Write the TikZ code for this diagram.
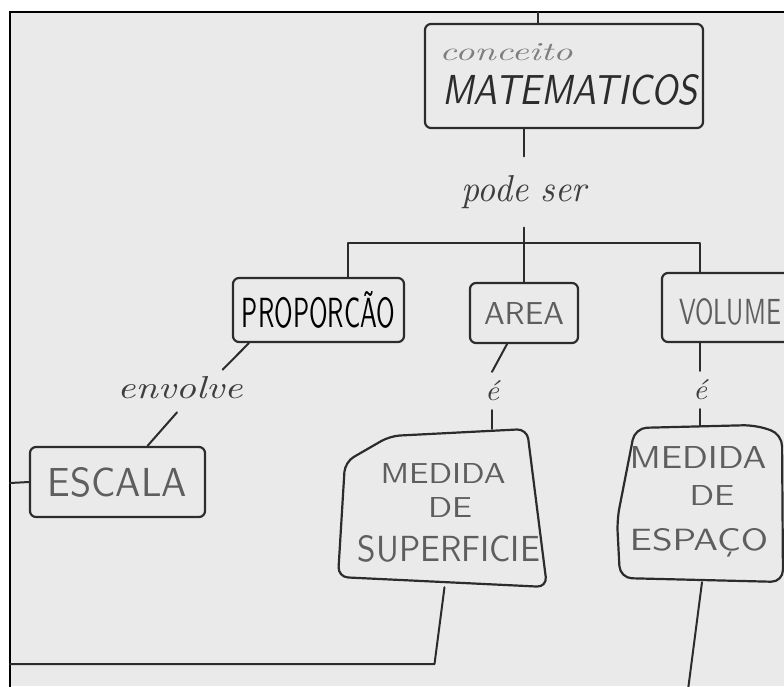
\documentclass[tikz,border=0pt]{standalone}
\usepackage{fontspec}
\usepackage{graphicx}
\usetikzlibrary{calc}
\definecolor{paper}{HTML}{EAEAEA}
\definecolor{ink}{HTML}{2C2C2C}
\definecolor{pencil}{HTML}{3E3E3E}
\definecolor{mid}{HTML}{5E5E5E}
\definecolor{pale}{HTML}{7E7E7E}
\newcommand{\hwtxt}[3]{\resizebox{#1pt}{#2pt}{#3}}
\begin{document}
\begin{tikzpicture}[x=1pt,y=-1pt,
  conn/.style={draw=ink,line width=2pt,line cap=round,line join=round},
  boxline/.style={draw=ink,line width=2.2pt,line join=round},
  hbox/.style={boxline,rounded corners=6pt,inner sep=0pt},
  lbl/.style={inner sep=1pt,text=pencil}]
\useasboundingbox (0,0) rectangle (784,686);
\fill[white] (0,0) rectangle (784,686);
\clip (0,0) rectangle (784,686);
\fill[paper] (10,12) rectangle (784,686);
\draw[black,line width=2.2pt] (10,690) -- (10,12) -- (790,12);

% top concept
\node[hbox,minimum width=278pt,minimum height=104pt] (concept) at (564,76) {};
\node[lbl,text=pale] (tconc) at (506,52) {\hwtxt{133}{17}{\itshape conceito}};
\node[lbl,text=ink] (tmat) at (570,90) {\hwtxt{255}{30}{\sffamily\itshape MATEMATICOS}};
\coordinate (topc) at (538,12);
\draw[conn] (topc) -- (topc |- concept.north);

% pode ser
\node[lbl,outer ysep=18pt] (pode) at (524,192) {\hwtxt{125}{26}{\itshape pode ser}};
\draw[conn] (pode |- concept.south) -- (pode.north);

% level two boxes
\node[hbox,minimum width=171pt,minimum height=64pt] (prop) at (318.5,310)
  {\hwtxt{153}{36}{\sffamily PROPORCÃO}};
\node[hbox,minimum width=108pt,minimum height=60pt,text=mid] (area) at (524,313)
  {\hwtxt{80}{22}{\sffamily AREA}};
\node[hbox,minimum width=148pt,minimum height=69pt] (vol) at (736,307.5) {};
\node[lbl,text=mid] (tvol) at (730,312) {\hwtxt{102}{26}{\sffamily VOLUME}};

\draw[conn] (pode.south) -- (area.north);
\coordinate (barL) at (348,243);
\coordinate (barR) at (700,243);
\draw[conn] (barL |- prop.north) -- (barL) -- (barR) -- (barR |- vol.north);

% envolve / escala
\node[lbl] (env) at (180,388) {\hwtxt{125}{22}{\itshape envolve}};
\node[hbox,minimum width=175pt,minimum height=70pt,text=mid] (esc) at (117.5,482)
  {\hwtxt{139}{29}{\sffamily ESCALA}};
\draw[conn] ([xshift=17pt]prop.south west) -- ([xshift=-21pt,yshift=6pt]env.north east);
\draw[conn] ([xshift=-3pt,yshift=-12pt]env.south) -- ([xshift=30pt]esc.north);
\coordinate (lft) at (10,483);
\draw[conn] (lft) -- (esc.west);

% e labels
\node[lbl,outer ysep=8pt] (e1) at (492,391) {\hwtxt{14}{20}{\itshape é}};
\node[lbl,outer ysep=8pt] (e2) at (700,390) {\hwtxt{14}{20}{\itshape é}};

% medida de superficie
\node[inner sep=0pt,minimum width=209pt,minimum height=158pt] (sup) at (442.5,508) {};
\draw[boxline,rounded corners=10pt] (338,577) -- (345,462) -- (390,436) -- (527,429) -- (547,587) -- cycle;
\node[lbl,text=mid] (m1) at (443,473) {\hwtxt{125}{20}{\sffamily MEDIDA}};
\node[lbl,text=mid] (d1) at (450,507) {\hwtxt{44}{20}{\sffamily DE}};
\node[lbl,text=mid] (s1) at (449,549) {\hwtxt{182}{26}{\sffamily SUPERFICIE}};

% medida de espaco
\node[inner sep=0pt,minimum width=166pt,minimum height=156pt] (esp) at (700,504) {};
\draw[boxline,rounded corners=12pt] (620,578) -- (617,520) -- (635,428) -- (755,425) -- (782,434) -- (783,582) -- cycle;
\node[lbl,text=mid] (m2) at (698,457) {\hwtxt{137}{22}{\sffamily MEDIDA}};
\node[lbl,text=mid] (d2) at (712,495) {\hwtxt{45}{20}{\sffamily DE}};
\node[lbl,text=mid] (s2) at (699,543) {\hwtxt{138}{22}{\sffamily ESPAÇO}};

\draw[conn] ([xshift=-17pt]area.south) -- (e1.north);
\draw[conn] (e1.south) -- (e1.south |- sup.north);
\draw[conn] (barR |- vol.south) -- (e2.north);
\draw[conn] (e2.south) -- (e2.south |- esp.north);

% lower connectors
\coordinate (botL) at (10,664);
\draw[conn] ([xshift=2pt]sup.south) -- ([xshift=-8pt]sup.south |- botL) -- (botL);
\coordinate (botR) at (688,690);
\draw[conn] ([xshift=2pt]esp.south) -- (botR);
\end{tikzpicture}
\end{document}
